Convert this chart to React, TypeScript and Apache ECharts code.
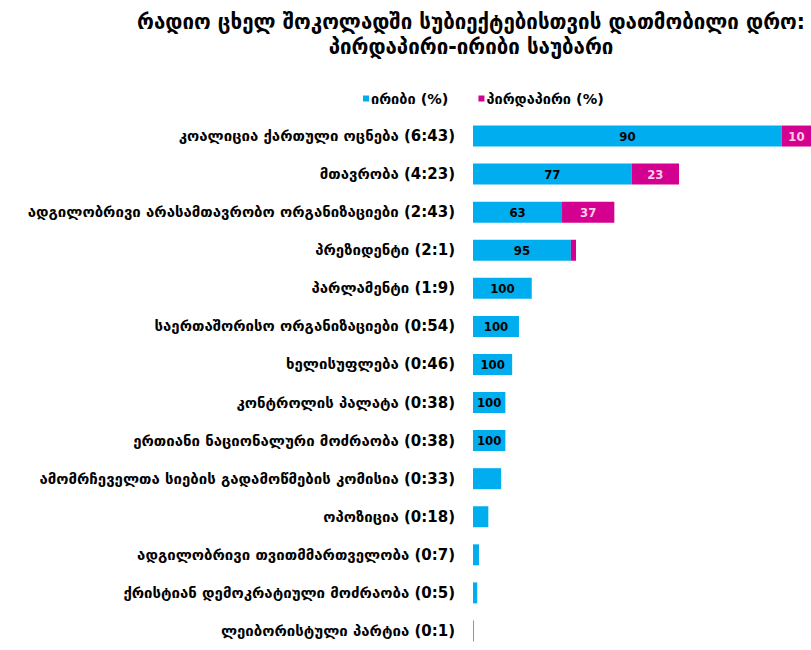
import React, { useEffect, useRef } from "react";
import * as echarts from "echarts";

const titleText = "რადიო ცხელ შოკოლადში სუბიექტებისთვის დათმობილი დრო:\nპირდაპირი-ირიბი საუბარი";
const legendNames = ["ირიბი (%)", "პირდაპირი (%)"];

const subjects = [
  "კოალიცია ქართული ოცნება",
  "მთავრობა",
  "ადგილობრივი არასამთავრობო ორგანიზაციები",
  "პრეზიდენტი",
  "პარლამენტი",
  "საერთაშორისო ორგანიზაციები",
  "ხელისუფლება",
  "კონტროლის პალატა",
  "ერთიანი ნაციონალური მოძრაობა",
  "ამომრჩეველთა სიების გადამოწმების კომისია",
  "ოპოზიცია",
  "ადგილობრივი თვითმმართველობა",
  "ქრისტიან დემოკრატიული მოძრაობა",
  "ლეიბორისტული პარტია",
];
const durations = ["6:43", "4:23", "2:43", "2:1", "1:9", "0:54", "0:46", "0:38", "0:38", "0:33", "0:18", "0:7", "0:5", "0:1"];
// total airtime in seconds (bar length)
const totalSeconds = [403, 242, 166, 121, 69, 54, 46, 38, 38, 33, 18, 7, 5, 1];
const indirectPct = [90, 77, 63, 95, 100, 100, 100, 100, 100, 100, 100, 100, 100, 100];
const directPct = [10, 23, 37, 5, 0, 0, 0, 0, 0, 0, 0, 0, 0, 0];
const indirectLabelShown = [true, true, true, true, true, true, true, true, true, false, false, false, false, false];
const directLabelShown = [true, true, true, false, false, false, false, false, false, false, false, false, false, false];

const FONT = "DejaVu Sans, sans-serif";
const NUMFONT = "DejaVu Sans Condensed, DejaVu Sans, sans-serif";

export default function App() {
  const ref = useRef<HTMLDivElement>(null);
  useEffect(() => {
    if (!ref.current) return;
    const chart = echarts.init(ref.current, null, { renderer: "svg" });
    const cats = subjects.map((s, i) => `${s} (${durations[i]})`);
    chart.setOption({
      animation: false,
      backgroundColor: "#ffffff",
      title: {
        text: titleText,
        left: 466,
        top: 4,
        textAlign: "center",
        textStyle: { fontFamily: FONT, fontWeight: "bold", fontSize: 20.5, color: "#000", lineHeight: 25 },
      },
      legend: {
        data: legendNames,
        left: 358,
        top: 86,
        itemWidth: 6,
        itemHeight: 6,
        itemGap: 30,
        icon: "rect",
        textStyle: { fontFamily: FONT, fontWeight: "bold", fontSize: 14.5, color: "#000", padding: [0, 0, 0, -3] },
      },
      grid: { left: 473, right: 0, top: 117, bottom: -5, containLabel: false },
      xAxis: {
        type: "value",
        min: 0,
        max: 397,
        show: false,
      },
      yAxis: {
        type: "category",
        inverse: true,
        data: cats,
        axisLine: { show: false },
        axisTick: { show: false },
        axisLabel: { fontFamily: FONT, fontWeight: "bold", fontSize: 15, color: "#000", margin: 18 },
      },
      series: [
        {
          name: legendNames[0],
          type: "bar",
          stack: "t",
          barWidth: 21,
          itemStyle: { color: "#00AEEF" },
          label: {
            position: "inside",
            fontFamily: NUMFONT,
            fontWeight: "bold",
            fontSize: 13,
            color: "#000",
            formatter: (p: any) => String(indirectPct[p.dataIndex]),
          },
          data: totalSeconds.map((t, i) => ({
            value: (t * indirectPct[i]) / 100,
            label: { show: indirectLabelShown[i] },
          })),
        },
        {
          name: legendNames[1],
          type: "bar",
          stack: "t",
          barWidth: 21,
          itemStyle: { color: "#D4008F" },
          label: {
            position: "inside",
            fontFamily: NUMFONT,
            fontWeight: "bold",
            fontSize: 13,
            color: "#F8D0E4",
            formatter: (p: any) => String(directPct[p.dataIndex]),
          },
          data: totalSeconds.map((t, i) => ({
            value: (t * directPct[i]) / 100,
            label: { show: directLabelShown[i] },
          })),
        },
      ],
    });
    return () => chart.dispose();
  }, []);
  return <div ref={ref} style={{ position: "fixed", left: 0, top: 0, width: 811, height: 650 }} />;
}
